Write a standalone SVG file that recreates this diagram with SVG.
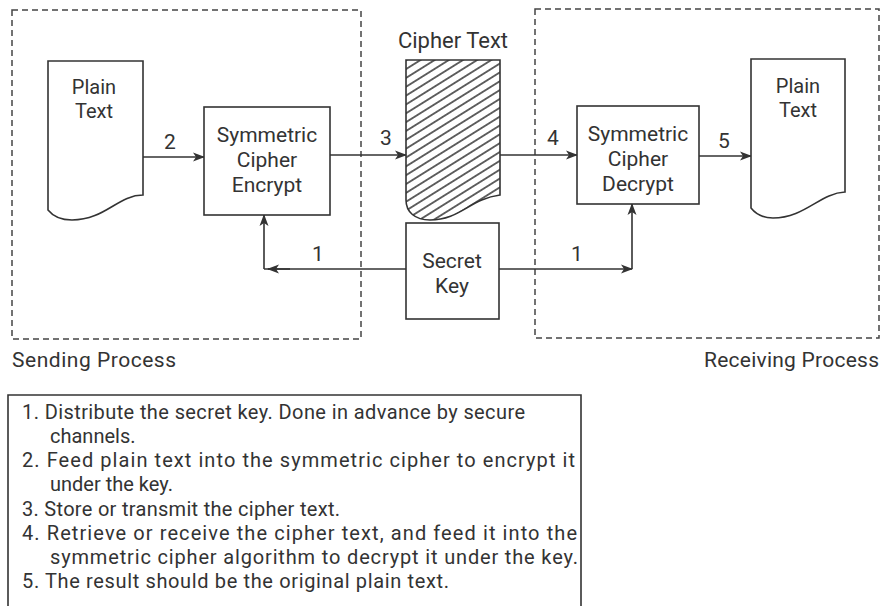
<svg xmlns="http://www.w3.org/2000/svg" width="881" height="606" viewBox="0 0 881 606">
  <defs>
    <pattern id="hatch" width="7.5" height="7.5" patternUnits="userSpaceOnUse" patternTransform="rotate(-32)">
      <line x1="0" y1="3.75" x2="7.5" y2="3.75" stroke="#333" stroke-width="1.5"/>
    </pattern>
    <marker id="arrow" viewBox="0 0 12 10" refX="11" refY="5" markerWidth="12" markerHeight="10" markerUnits="userSpaceOnUse" orient="auto">
      <path d="M0,0.5 L12,5 L0,9.5 L3,5 Z" fill="#333"/>
    </marker>
  </defs>
  <style>
    text { font-family: Roboto, "Liberation Sans", sans-serif; fill: #333; }
    .lbl { font-size: 21px; text-anchor: middle; }
    .cap { font-size: 21px; }
    .num { font-size: 21px; text-anchor: middle; }
    .list { font-size: 20px; }
    .shape { fill: #fff; stroke: #333; stroke-width: 1.6; }
    .zone { fill: none; stroke: #444; stroke-width: 1.5; stroke-dasharray: 6 4; }
    .conn { fill: none; stroke: #333; stroke-width: 1.6; }
  </style>

  <rect width="881" height="606" fill="#fff"/>

  <!-- process zones -->
  <g id="sending-process">
    <rect class="zone" x="12" y="10" width="349" height="329"/>
    <text class="cap" x="12" y="367" textLength="164">Sending Process</text>
  </g>
  <g id="receiving-process">
    <rect class="zone" x="535" y="9" width="344" height="329"/>
    <text class="cap" x="704" y="367" textLength="175">Receiving Process</text>
  </g>

  <!-- connectors -->
  <g id="connectors">
    <line class="conn" x1="143" y1="157" x2="204" y2="157" marker-end="url(#arrow)"/>
    <line class="conn" x1="330" y1="155" x2="406" y2="155" marker-end="url(#arrow)"/>
    <line class="conn" x1="500" y1="155" x2="577" y2="155" marker-end="url(#arrow)"/>
    <line class="conn" x1="699" y1="156" x2="751" y2="156" marker-end="url(#arrow)"/>
    <!-- key distribution, sender side -->
    <line class="conn" x1="406" y1="269" x2="264" y2="269"/>
    <line class="conn" x1="290" y1="269" x2="268" y2="269" marker-end="url(#arrow)"/>
    <line class="conn" x1="264" y1="269" x2="264" y2="215" marker-end="url(#arrow)"/>
    <!-- key distribution, receiver side -->
    <line class="conn" x1="499" y1="269" x2="632" y2="269" marker-end="url(#arrow)"/>
    <line class="conn" x1="632" y1="269" x2="632" y2="204" marker-end="url(#arrow)"/>
    <text class="num" x="170" y="149">2</text>
    <text class="num" x="386" y="145">3</text>
    <text class="num" x="553" y="145">4</text>
    <text class="num" x="724" y="148">5</text>
    <text class="num" x="318" y="261">1</text>
    <text class="num" x="577" y="261">1</text>
  </g>

  <!-- nodes -->
  <g id="plain-text-in">
    <path class="shape" d="M48,61 H143 V195 C118,195 105,220 72,220 C60,220 52,215 48,210 Z"/>
    <text class="lbl" x="94" y="94" style="font-size:20px">Plain</text>
    <text class="lbl" x="94" y="118" style="font-size:20px">Text</text>
  </g>
  <g id="encrypt">
    <rect class="shape" x="204" y="107" width="126" height="108"/>
    <text class="lbl" x="267" y="142">Symmetric</text>
    <text class="lbl" x="267" y="167">Cipher</text>
    <text class="lbl" x="267" y="192">Encrypt</text>
  </g>
  <g id="cipher-text">
    <text class="lbl" x="453" y="48" style="font-size:22px">Cipher Text</text>
    <path d="M406,60 H500 V195 C470,199 460,220 430,220 C415,220 406,212 406,200 Z" fill="url(#hatch)" stroke="#333" stroke-width="1.6"/>
  </g>
  <g id="secret-key">
    <rect class="shape" x="406" y="223" width="93" height="96"/>
    <text class="lbl" x="452" y="268">Secret</text>
    <text class="lbl" x="452" y="293">Key</text>
  </g>
  <g id="decrypt">
    <rect class="shape" x="577" y="106" width="122" height="98"/>
    <text class="lbl" x="638" y="141">Symmetric</text>
    <text class="lbl" x="638" y="166">Cipher</text>
    <text class="lbl" x="638" y="191">Decrypt</text>
  </g>
  <g id="plain-text-out">
    <path class="shape" d="M751,59 H845 V192 C820,193 805,218 773,218 C762,218 755,213 751,208 Z"/>
    <text class="lbl" x="798" y="93" style="font-size:20px">Plain</text>
    <text class="lbl" x="798" y="117" style="font-size:20px">Text</text>
  </g>

  <!-- step list -->
  <g id="steps">
    <path class="conn" d="M8,610 V395 H581 V610"/>
    <text class="list" x="22" y="419" textLength="503">1. Distribute the secret key. Done in advance by secure</text>
    <text class="list" x="50" y="443">channels.</text>
    <text class="list" x="22" y="467" textLength="553">2. Feed plain text into the symmetric cipher to encrypt it</text>
    <text class="list" x="50" y="491">under the key.</text>
    <text class="list" x="22" y="516" textLength="318">3. Store or transmit the cipher text.</text>
    <text class="list" x="22" y="540" textLength="555">4. Retrieve or receive the cipher text, and feed it into the</text>
    <text class="list" x="50" y="564" textLength="528">symmetric cipher algorithm to decrypt it under the key.</text>
    <text class="list" x="22" y="588" textLength="427">5. The result should be the original plain text.</text>
  </g>
</svg>
